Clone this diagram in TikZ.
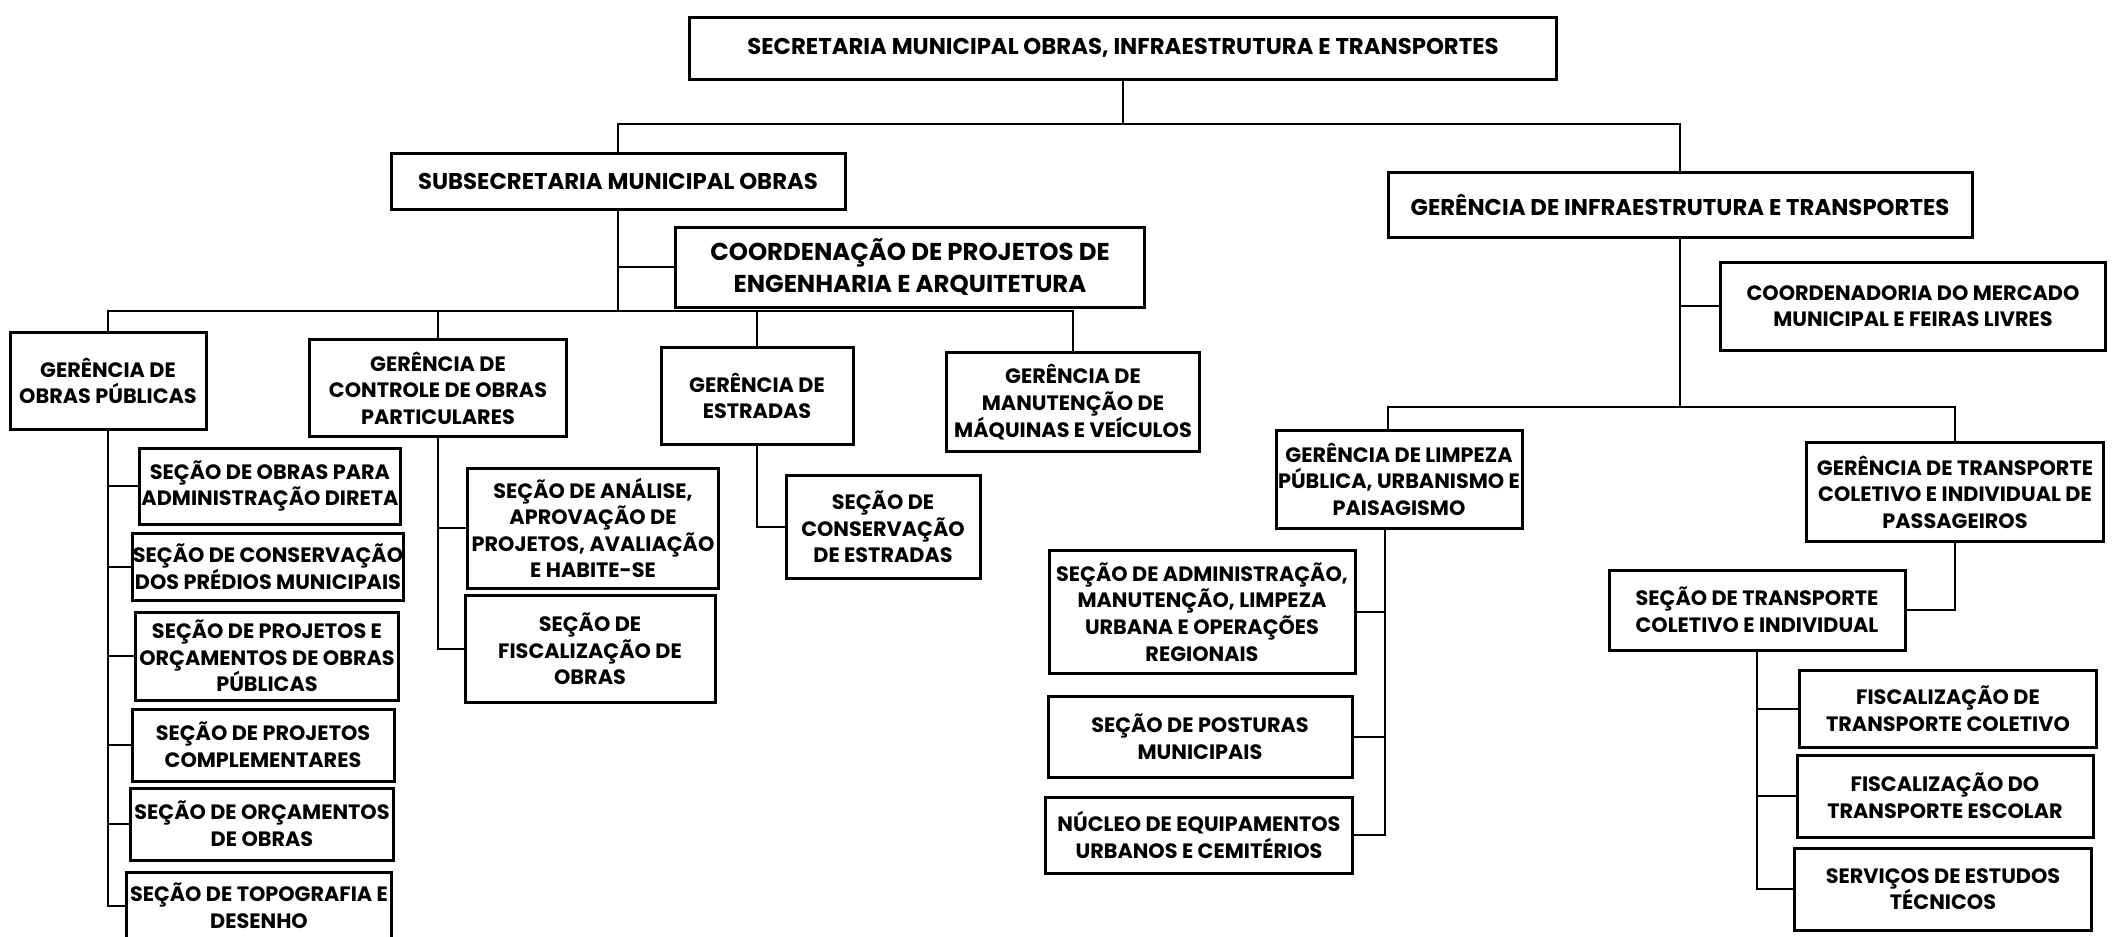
\documentclass[tikz,border=0pt]{standalone}
\usepackage{fontspec}
\setmainfont{Poppins}
\tikzset{
  orgbox/.style 2 args={draw, line width=1.5pt, inner sep=0pt, align=center,
    minimum width=#1*0.5pt, minimum height=#2*0.5pt,
    font=\bfseries\fontsize{10.4}{13.3}\selectfont},
  bigtext/.style={font=\bfseries\fontsize{11.4}{14}\selectfont},
  conn/.style={line width=1.2pt}
}
\begin{document}
\begin{tikzpicture}[x=0.5pt,y=-0.5pt]
\fill[white] (0,0) rectangle (2115,937);
\useasboundingbox (0,0) rectangle (2115,937);
\clip (0,0) rectangle (2115,937);

% level 0-1
\node[orgbox={867}{62}, bigtext] (top) at (1123,48) {SECRETARIA MUNICIPAL OBRAS, INFRAESTRUTURA E TRANSPORTES};
\node[orgbox={454}{56}, bigtext] (sub) at (618,181) {SUBSECRETARIA MUNICIPAL OBRAS};
\node[orgbox={469}{80}, font=\bfseries\fontsize{12.2}{16}\selectfont] (cproj) at (910,267) {COORDENAÇÃO DE PROJETOS DE\\ENGENHARIA E ARQUITETURA};
\node[orgbox={584}{65}, bigtext] (git) at (1680,205) {GERÊNCIA DE INFRAESTRUTURA E TRANSPORTES};
\node[orgbox={385}{88}] (merc) at (1913,306) {COORDENADORIA DO MERCADO\\MUNICIPAL E FEIRAS LIVRES};

% gerencias left
\node[orgbox={196}{97}] (g1) at (108,381) {GERÊNCIA DE\\OBRAS PÚBLICAS};
\node[orgbox={257}{97}] (g2) at (438,388) {GERÊNCIA DE\\CONTROLE DE OBRAS\\PARTICULARES};
\node[orgbox={192}{97}] (g3) at (757,396) {GERÊNCIA DE\\ESTRADAS};
\node[orgbox={253}{99}] (g4) at (1073,402) {GERÊNCIA DE\\MANUTENÇÃO DE\\MÁQUINAS E VEÍCULOS};

% gerencias right
\node[orgbox={246}{98}] (limp) at (1399,479) {GERÊNCIA DE LIMPEZA\\PÚBLICA, URBANISMO E\\PAISAGISMO};
\node[orgbox={297}{99}] (tpass) at (1955,492) {GERÊNCIA DE TRANSPORTE\\COLETIVO E INDIVIDUAL DE\\PASSAGEIROS};

% secoes obras publicas
\node[orgbox={261}{76}] (s1) at (270,486) {SEÇÃO DE OBRAS PARA\\ADMINISTRAÇÃO DIRETA};
\node[orgbox={262}{67}] (s2) at (268,567) {SEÇÃO DE CONSERVAÇÃO\\DOS PRÉDIOS MUNICIPAIS};
\node[orgbox={263}{88}] (s3) at (267,656) {SEÇÃO DE PROJETOS E\\ORÇAMENTOS DE OBRAS\\PÚBLICAS};
\node[orgbox={262}{72}] (s4) at (263,745) {SEÇÃO DE PROJETOS\\COMPLEMENTARES};
\node[orgbox={263}{72}] (s5) at (262,824) {SEÇÃO DE ORÇAMENTOS\\DE OBRAS};
\node[orgbox={265}{68}] (s6) at (259,906) {SEÇÃO DE TOPOGRAFIA E\\DESENHO};

% secoes controle / estradas
\node[orgbox={251}{120}] (an) at (593,528) {SEÇÃO DE ANÁLISE,\\APROVAÇÃO DE\\PROJETOS, AVALIAÇÃO\\E HABITE-SE};
\node[orgbox={250}{107}] (fo) at (590,649) {SEÇÃO DE\\FISCALIZAÇÃO DE\\OBRAS};
\node[orgbox={194}{103}] (ce) at (883,527) {SEÇÃO DE\\CONSERVAÇÃO\\DE ESTRADAS};

% secoes limpeza
\node[orgbox={306}{123}] (sa) at (1202,612) {SEÇÃO DE ADMINISTRAÇÃO,\\MANUTENÇÃO, LIMPEZA\\URBANA E OPERAÇÕES\\REGIONAIS};
\node[orgbox={304}{81}] (sp) at (1200,737) {SEÇÃO DE POSTURAS\\MUNICIPAIS};
\node[orgbox={307}{76}] (nu) at (1199,835) {NÚCLEO DE EQUIPAMENTOS\\URBANOS E CEMITÉRIOS};

% transporte
\node[orgbox={296}{80}] (stc) at (1757,610) {SEÇÃO DE TRANSPORTE\\COLETIVO E INDIVIDUAL};
\node[orgbox={297}{77}] (fc) at (1948,709) {FISCALIZAÇÃO DE\\TRANSPORTE COLETIVO};
\node[orgbox={296}{82}] (fe) at (1945,796) {FISCALIZAÇÃO DO\\TRANSPORTE ESCOLAR};
\node[orgbox={297}{82}] (se) at (1943,889) {SERVIÇOS DE ESTUDOS\\TÉCNICOS};

% connectors
\coordinate (b1) at (1123,124);
\draw[conn] (top.south) -- (b1);
\draw[conn] (sub.north) |- (b1) -| (git.north);

\coordinate (b2) at (618,311);
\draw[conn] (sub.south) -- (b2);
\draw[conn] (cproj.west) -- (cproj.west -| sub.south);
\draw[conn] (g1.north) |- (b2) -| (g4.north);
\draw[conn] (g2.north) -- (g2.north |- b2);
\draw[conn] (g3.north) -- (g3.north |- b2);

\draw[conn] (g1.south) |- (s6.west);
\foreach \n in {s1,s2,s3,s4,s5} \draw[conn] (\n.west) -- (\n.west -| g1.south);

\draw[conn] (g2.south) |- (fo.west);
\draw[conn] (an.west) -- (an.west -| g2.south);
\draw[conn] (g3.south) |- (ce.west);

\coordinate (b3) at (1680,407);
\draw[conn] (git.south) -- (b3);
\draw[conn] (merc.west) -- (merc.west -| git.south);
\coordinate (limptop) at ([xshift=-5.5pt]limp.north);
\coordinate (limpbot) at ([xshift=-7pt]limp.south);
\draw[conn] (limptop) |- (b3) -| (tpass.north);
\draw[conn] (limpbot) |- (nu.east);
\draw[conn] (sa.east) -- (sa.east -| limpbot);
\draw[conn] (sp.east) -- (sp.east -| limpbot);

\draw[conn] (tpass.south) |- (stc.east);
\draw[conn] (stc.south) |- (se.west);
\draw[conn] (fc.west) -- (fc.west -| stc.south);
\draw[conn] (fe.west) -- (fe.west -| stc.south);
\end{tikzpicture}
\end{document}
